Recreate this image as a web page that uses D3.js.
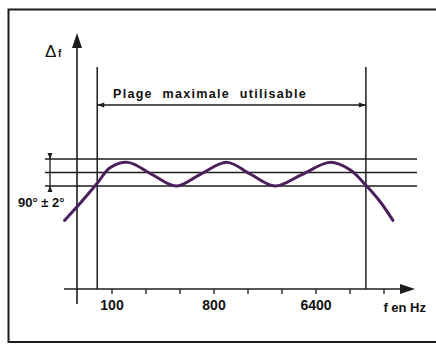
<!DOCTYPE html>
<html>
<head>
<meta charset="utf-8">
<script src="https://cdn.jsdelivr.net/npm/d3@7"></script>
<style>
  body { margin: 0; background: #fff; }
  svg { display: block; }
  text { font-family: "Liberation Sans", Arial, sans-serif; font-weight: bold; fill: #111; }
</style>
</head>
<body>
<svg id="chart" width="436" height="344"></svg>
<script>
// octave ticks on the frequency axis (log2)
const tickFreqs = [100, 200, 400, 800, 1600, 3200, 6400, 12800, 25600];
const tickLabels = {100: "100", 800: "800", 6400: "6400"};

// tolerance band, degrees
const bandLevels = [92, 90, 88];

// usable range limits, Hz
const rangeLimits = [74, 17700];

// phase response
const curveFreq = [38, 52, 74, 96, 139, 226, 369, 601, 1043, 1700, 2770, 4800, 8500, 12800, 17700, 23600, 30700];
const curveDeg  = [82.9, 85.4, 88.4, 90.7, 91.5, 89.7, 88.0, 89.7, 91.5, 89.7, 88.0, 89.7, 91.5, 90.4, 88.1, 85.7, 82.9];

const ink = "#1c1c1c";
const svg = d3.select("#chart");

// frame: left, top and bottom edges only show in the picture
svg.append("path")
  .attr("d", "M440,9.5 L8.5,9.5 L8.5,342 L440,342")
  .style("fill", "none").style("stroke", ink).style("stroke-width", 2);

const x = d3.scaleLog().base(2).domain([100, 6400]).range([112, 316]);
const y = d3.scaleLinear().domain([88, 92]).range([186, 159]);

const xAxisY = 289, yAxisX = 77;

// x axis with arrow
svg.append("line")
  .attr("x1", 64).attr("y1", xAxisY).attr("x2", 402).attr("y2", xAxisY)
  .style("stroke", ink).style("stroke-width", 1.6);
svg.append("path")
  .attr("d", `M415,${xAxisY} L400,${xAxisY - 5} L400,${xAxisY + 5} Z`)
  .style("fill", ink);

// y axis with arrow
svg.append("line")
  .attr("x1", yAxisX).attr("y1", 46).attr("x2", yAxisX).attr("y2", 304)
  .style("stroke", ink).style("stroke-width", 1.6);
svg.append("path")
  .attr("d", `M${yAxisX},33 L${yAxisX - 5},48 L${yAxisX + 5},48 Z`)
  .style("fill", ink);

// octave ticks
svg.selectAll(".tick")
  .data(tickFreqs)
  .join("line")
  .attr("x1", d => x(d)).attr("x2", d => x(d))
  .attr("y1", xAxisY).attr("y2", xAxisY + 5)
  .style("stroke", ink).style("stroke-width", 1.3);

svg.selectAll(".tlabel")
  .data(tickFreqs.filter(d => tickLabels[d]))
  .join("text")
  .attr("x", d => x(d)).attr("y", 310)
  .attr("text-anchor", "middle")
  .style("font-size", "14px")
  .text(d => tickLabels[d]);

svg.append("text")
  .attr("x", 426).attr("y", 312)
  .attr("text-anchor", "end")
  .style("font-size", "13px")
  .text("f en Hz");

// axis title
svg.append("text")
  .attr("x", 45).attr("y", 57)
  .style("font-size", "17px").style("font-weight", "normal")
  .text("Δ");
svg.append("text")
  .attr("x", 58).attr("y", 57)
  .style("font-size", "10px")
  .text("f");

// usable range verticals
svg.selectAll(".limit")
  .data(rangeLimits)
  .join("line")
  .attr("x1", d => x(d)).attr("x2", d => x(d))
  .attr("y1", 67).attr("y2", xAxisY)
  .style("stroke", ink).style("stroke-width", 1.5);

// double arrow between the limits
const ax0 = x(rangeLimits[0]), ax1 = x(rangeLimits[1]), ay = 105;
svg.append("line")
  .attr("x1", ax0).attr("y1", ay).attr("x2", ax1).attr("y2", ay)
  .style("stroke", ink).style("stroke-width", 1.3);
svg.append("path")
  .attr("d", `M${ax0},${ay} L${ax0 + 7},${ay - 2.5} L${ax0 + 7},${ay + 2.5} Z M${ax1},${ay} L${ax1 - 7},${ay - 2.5} L${ax1 - 7},${ay + 2.5} Z`)
  .style("fill", ink);

svg.append("text")
  .attr("x", 113).attr("y", 98)
  .style("font-size", "12.5px").style("letter-spacing", "1.3px").style("word-spacing", "5px")
  .text("Plage maximale utilisable");

// tolerance band lines
svg.selectAll(".band")
  .data(bandLevels)
  .join("line")
  .attr("x1", 45).attr("x2", 417)
  .attr("y1", d => y(d)).attr("y2", d => y(d))
  .style("stroke", ink).style("stroke-width", 1.5);

// dimension marker ±2°
const dx = 50, dTop = y(bandLevels[0]), dBot = y(bandLevels[2]);
svg.append("line")
  .attr("x1", dx).attr("x2", dx).attr("y1", dTop - 6).attr("y2", dBot + 6)
  .style("stroke", ink).style("stroke-width", 1.3);
svg.append("path")
  .attr("d", `M${dx},${dTop} L${dx - 2.5},${dTop - 6} L${dx + 2.5},${dTop - 6} Z M${dx},${dBot} L${dx - 2.5},${dBot + 6} L${dx + 2.5},${dBot + 6} Z`)
  .style("fill", ink);

svg.append("text")
  .attr("x", 18).attr("y", 207)
  .style("font-size", "13px")
  .text("90° ± 2°");

// response curve
const pts = curveFreq.map((f, i) => [x(f), y(curveDeg[i])]);
svg.append("path")
  .datum(pts)
  .attr("d", d3.line().curve(d3.curveCatmullRom.alpha(0.5)))
  .style("fill", "none")
  .style("stroke", "#4a1f5c")
  .style("stroke-width", 3)
  .style("stroke-linecap", "round");
</script>
</body>
</html>
